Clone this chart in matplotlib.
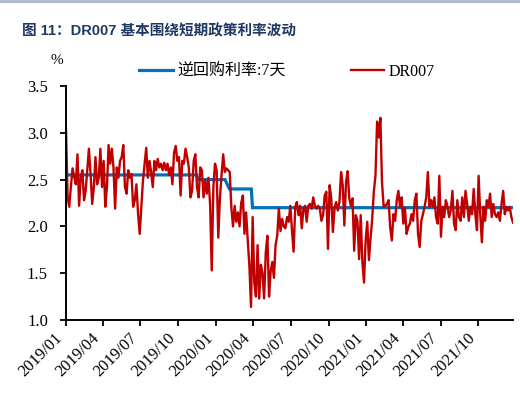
import matplotlib
matplotlib.use('Agg')
import matplotlib.pyplot as plt
import pandas as pd
from matplotlib.lines import Line2D

plt.rcParams['font.family'] = ['Liberation Serif', 'Noto Sans CJK SC']

# ---- data ----
title = '图 11：DR007 基本围绕短期政策利率波动'
series_names = ['逆回购利率:7天', 'DR007']

policy_dates = ['2019-01-01', '2019-11-15', '2019-11-18', '2020-01-23',
                '2020-02-03', '2020-03-27', '2020-03-30', '2021-12-24']
policy_rate = [2.55, 2.55, 2.50, 2.50, 2.40, 2.40, 2.20, 2.20]

dr_start, dr_end = '2019-01-01', '2021-12-24'
dr007_2019q1 = [3.04, 2.31, 2.21, 2.43, 2.62, 2.53, 2.45, 2.77, 2.22, 2.52, 2.60, 2.28,
                2.38, 2.60, 2.83, 2.56, 2.24, 2.42, 2.74, 2.45, 2.52, 2.83, 2.42]
dr007_2019q2 = [2.70, 2.21, 2.42, 2.87, 2.67, 2.83, 2.63, 2.19, 2.63, 2.52, 2.70, 2.74,
                2.87, 2.42, 2.35, 2.60, 2.52, 2.56, 2.21, 2.28, 2.45, 2.14, 1.92]
dr007_2019q3 = [2.21, 2.49, 2.67, 2.84, 2.52, 2.70, 2.58, 2.42, 2.70, 2.60, 2.72, 2.63,
                2.67, 2.60, 2.68, 2.60, 2.67, 2.55, 2.63, 2.45, 2.79, 2.86, 2.70]
dr007_2019q4 = [2.74, 2.33, 2.70, 2.67, 2.83, 2.74, 2.63, 2.31, 2.38, 2.70, 2.77, 2.42,
                2.31, 2.63, 2.60, 2.31, 2.49, 2.35, 2.52, 2.24, 1.53, 2.42, 2.67]
dr007_2020q1 = [2.60, 1.88, 2.30, 2.55, 2.77, 2.58, 2.62, 2.60, 2.58, 2.20, 2.00, 2.22,
                2.05, 2.15, 2.00, 2.25, 2.33, 1.92, 2.15, 1.85, 1.58, 1.14, 2.10]
dr007_2020q2 = [1.40, 1.25, 1.80, 1.23, 1.59, 1.50, 1.23, 1.72, 1.90, 1.25, 1.52, 1.62,
                1.45, 1.80, 1.90, 2.19, 1.95, 2.08, 2.00, 1.98, 2.10, 2.05, 2.22]
dr007_2020q3 = [1.96, 1.73, 2.21, 2.26, 2.12, 2.22, 1.98, 2.19, 2.22, 2.05, 2.22, 2.24,
                2.19, 2.31, 2.22, 2.19, 2.22, 2.19, 2.06, 2.12, 2.33, 2.37, 1.76]
dr007_2020q4 = [2.44, 2.30, 1.94, 2.19, 2.26, 2.17, 2.26, 2.58, 2.44, 2.01, 2.47, 2.59,
                2.30, 2.22, 2.30, 1.74, 2.12, 2.06, 1.65, 2.12, 1.62, 1.40, 1.85]
dr007_2021q1 = [2.05, 1.64, 1.87, 2.08, 2.37, 2.54, 3.12, 2.95, 3.16, 2.47, 2.21, 2.22,
                2.24, 2.28, 1.99, 1.85, 2.13, 2.06, 2.28, 2.38, 2.21, 2.31, 2.03]
dr007_2021q2 = [2.20, 1.92, 1.99, 2.03, 2.13, 2.06, 2.28, 2.35, 1.92, 1.78, 2.06, 2.13,
                2.21, 2.31, 2.58, 2.21, 2.28, 2.21, 2.31, 2.10, 2.03, 2.54, 1.89]
dr007_2021q3 = [2.21, 2.10, 2.28, 2.21, 2.10, 2.17, 2.38, 2.03, 1.96, 2.28, 2.10, 2.06,
                2.31, 2.10, 2.38, 2.24, 2.06, 2.21, 2.13, 2.40, 2.13, 1.96, 2.54]
dr007_2021q4 = [2.13, 1.83, 2.21, 2.06, 2.28, 2.21, 2.35, 2.10, 2.24, 2.13, 2.10, 2.15,
                2.06, 2.24, 2.38, 2.13, 2.21, 2.17, 2.21, 2.10, 2.04]

y_ticks = [1.0, 1.5, 2.0, 2.5, 3.0, 3.5]
x_tick_dates = ['2019-01-01', '2019-04-01', '2019-07-01', '2019-10-01',
                '2020-01-01', '2020-04-01', '2020-07-01', '2020-10-01',
                '2021-01-01', '2021-04-01', '2021-07-01', '2021-10-01']
x_tick_labels = ['2019/01', '2019/04', '2019/07', '2019/10', '2020/01', '2020/04',
                 '2020/07', '2020/10', '2021/01', '2021/04', '2021/07', '2021/10']

dr007 = (dr007_2019q1 + dr007_2019q2 + dr007_2019q3 + dr007_2019q4 +
         dr007_2020q1 + dr007_2020q2 + dr007_2020q3 + dr007_2020q4 +
         dr007_2021q1 + dr007_2021q2 + dr007_2021q3 + dr007_2021q4)
dr_dates = pd.date_range(dr_start, dr_end, periods=len(dr007))

# ---- figure ----
W, H = 520, 396
fig = plt.figure(figsize=(W / 100, H / 100), dpi=100)
ax = fig.add_axes([66 / W, 1 - 320 / H, (513 - 66) / W, (320 - 86) / H])

blue, red = '#0070C0', '#C00000'
ax.plot(pd.to_datetime(policy_dates), policy_rate, color=blue, lw=2.3,
        label=series_names[0], solid_joinstyle='miter')
ax.plot(dr_dates, dr007, color=red, lw=1.7, label=series_names[1])

ax.set_ylim(1.0, 3.5)
ax.set_yticks(y_ticks)
ax.set_yticklabels([f'{v:.1f}' for v in y_ticks])
ax.set_xlim(pd.Timestamp(dr_start), pd.Timestamp(dr_end))
ax.set_xticks(pd.to_datetime(x_tick_dates))
ax.set_xticklabels(x_tick_labels, rotation=45, ha='right', va='top',
                   rotation_mode='default')

for s in ['top', 'right']:
    ax.spines[s].set_visible(False)
for s in ['left', 'bottom']:
    ax.spines[s].set_linewidth(1.4)
    ax.spines[s].set_color('black')
ax.tick_params(axis='both', direction='out', length=4, width=1.3,
               labelsize=12, colors='black')
ax.tick_params(axis='y', pad=9)
ax.tick_params(axis='x', pad=3)

# title and decorations
fig.add_artist(Line2D([0, 1], [1 - 1 / H, 1 - 1 / H], color='#A9B8D0', lw=2.0))
fig.text(22 / W, 1 - 31 / H, title, fontsize=10.5, fontweight='bold',
         color='#1F3864', family=['Liberation Sans', 'Noto Sans CJK SC'],
         ha='left', va='center')
fig.text(57 / W, 1 - 61 / H, '%', fontsize=11, ha='center', va='center')

fig.legend(loc='center', bbox_to_anchor=(287 / W, 1 - 72 / H), ncol=2,
           frameon=False, fontsize=11.5, handlelength=2.1, handletextpad=0.25,
           columnspacing=4.1, borderaxespad=0, borderpad=0)

fig.savefig('out.png', dpi=100)
